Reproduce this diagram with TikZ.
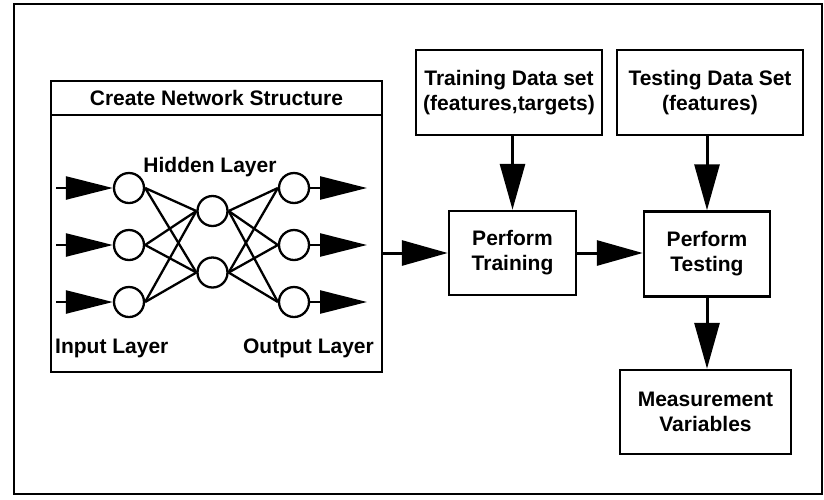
\documentclass[tikz,border=0pt]{standalone}
\usepackage{fontspec}
\setmainfont{Liberation Sans}
\usetikzlibrary{arrows.meta}
\begin{document}
\begin{tikzpicture}[x=1pt,y=-1pt,
  every node/.style={font=\fontsize{21}{25}\selectfont\bfseries},
  box/.style={draw,line width=2.5pt,align=center,inner sep=0pt},
  neuron/.style={draw,circle,line width=2.3pt,minimum size=30pt,inner sep=0pt},
  link/.style={line width=2.3pt},
  bigarrow/.style={line width=3pt,-{Triangle[length=46pt,width=25pt]}},
  smallarrow/.style={line width=2.5pt,-{Triangle[length=47pt,width=23pt]}},
  lbl/.style={inner sep=0pt}
]
\useasboundingbox (0,0) rectangle (824,499);
% outer frame
\draw[line width=2.5pt] (14,4) rectangle (822,494);

% network structure box
\node[box,minimum width=331pt,minimum height=291pt] (net) at (216.5,226.5) {};
\coordinate (divL) at (51,115);
\coordinate (divR) at (382,115);
\draw[line width=2.5pt] (divL) -- (divR);
\node[lbl] (title) at (216.5,98) {Create Network Structure};

% neurons
\node[neuron] (i1) at (129,188) {};
\node[neuron] (i2) at (129,245) {};
\node[neuron] (i3) at (129,302) {};
\node[neuron] (h1) at (212.5,211) {};
\node[neuron] (h2) at (212.5,272.5) {};
\node[neuron] (o1) at (294,188) {};
\node[neuron] (o2) at (294,245) {};
\node[neuron] (o3) at (294,302) {};

\foreach \i in {i1,i2,i3}{\foreach \h in {h1,h2}{\draw[link] (\i.east) -- (\h.west);}}
\foreach \h in {h1,h2}{\foreach \o in {o1,o2,o3}{\draw[link] (\h.east) -- (\o.west);}}

\coordinate (in1) at (56,188);
\coordinate (in2) at (56,245);
\coordinate (in3) at (56,302);
\coordinate (out1) at (367,188);
\coordinate (out2) at (367,245);
\coordinate (out3) at (367,302);
\draw[smallarrow] (in1) -- (i1);
\draw[smallarrow] (in2) -- (i2);
\draw[smallarrow] (in3) -- (i3);
\draw[smallarrow] (o1) -- (out1);
\draw[smallarrow] (o2) -- (out2);
\draw[smallarrow] (o3) -- (out3);

\node[lbl] (hl) at (210,167) {Hidden Layer};
\node[lbl,anchor=west] (il) at (55,348) {Input Layer};
\node[lbl,anchor=east] (ol) at (374,348) {Output Layer};

% right part
\node[box,minimum width=186pt,minimum height=85pt] (trdata) at (509,92.5) {Training Data set\\(features,targets)};
\node[box,minimum width=186pt,minimum height=85pt] (tedata) at (710,92.5) {Testing Data Set\\(features)};
\node[box,minimum width=127pt,minimum height=84pt] (train) at (512.5,253) {Perform\\Training};
\node[box,minimum width=126pt,minimum height=85pt] (test) at (707,254) {Perform\\Testing};
\node[box,minimum width=171pt,minimum height=84pt] (meas) at (705.5,412) {Measurement\\Variables};

\draw[bigarrow] (net.east |- train.west) -- (train.west);
\draw[bigarrow] (train.east) -- (test.west |- train.east);
\draw[bigarrow] (trdata.south -| train.north) -- (train.north);
\draw[bigarrow] (tedata.south -| test.north) -- (test.north);
\draw[bigarrow] (test.south) -- (test.south |- meas.north);
\end{tikzpicture}
\end{document}
